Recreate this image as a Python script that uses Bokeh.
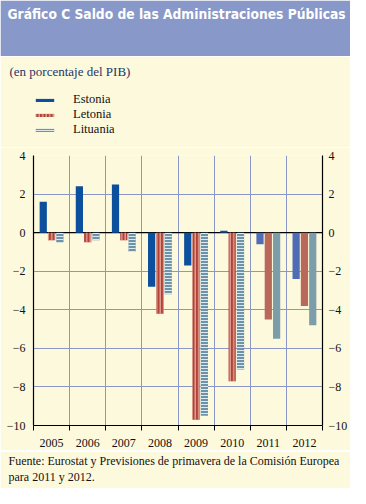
import numpy as np
from bokeh.plotting import figure
from bokeh.models import (Range1d, FixedTicker, LinearAxis, Span, ColumnDataSource,
                          Legend, LegendItem, Title)
from bokeh.layouts import column
from bokeh.embed import file_html
from bokeh.resources import INLINE

# ---------------- data ----------------
years = ["2005", "2006", "2007", "2008", "2009", "2010", "2011", "2012"]
estonia = [1.6, 2.4, 2.5, -2.8, -1.7, 0.1, -0.6, -2.4]
letonia = [-0.4, -0.5, -0.4, -4.2, -9.7, -7.7, -4.5, -3.8]
lituania = [-0.5, -0.4, -1.0, -3.2, -9.5, -7.1, -5.5, -4.8]
forecast = [False, False, False, False, False, False, True, True]
series_names = ["Estonia", "Letonia", "Lituania"]
y_ticks = [-10, -8, -6, -4, -2, 0, 2, 4]

title_text = "Gráfico C Saldo de las Administraciones Públicas"
subtitle_text = "(en porcentaje del PIB)"
source_text = ("Fuente: Eurostat y Previsiones de primavera de la Comisión Europea\n"
               "para 2011 y 2012.")

# ---------------- style ----------------
CREAM = "#fdf9dd"
HEAD = "#8898c8"
GRID = "#8b97c9"
SERIF = "Liberation Serif"
W = 350
BL, BR = 33, 23          # frame left / right borders shared by all parts

styles = {
    "Estonia": dict(fill=("#0c4f9c", "#4f6db5"), hatch=(" ", " "), hcol="#ffffff", scale=4, weight=1),
    "Letonia": dict(fill=("#b0423a", "#b9695a"), hatch=("|", " "), hcol="#e6a898", scale=3.5, weight=1.3),
    "Lituania": dict(fill=("#6d93aa", "#7c9eab"), hatch=("-", " "), hcol="#dfe8ee", scale=3, weight=1),
}
offsets = {"Estonia": -0.23, "Letonia": 0.0, "Lituania": 0.23}
bar_w = 0.2


def blank(height, color):
    f = figure(width=W, height=height, x_range=Range1d(0, 1), y_range=Range1d(0, 1),
               x_axis_type=None, y_axis_type=None, toolbar_location=None,
               output_backend="svg", title=None, min_border_left=BL, min_border_right=BR,
               min_border_top=0, min_border_bottom=0)
    f.background_fill_color = color
    f.border_fill_color = color
    f.outline_line_color = color
    f.outline_line_width = 3
    return f

# ---------------- header ----------------
header = blank(56, HEAD)
header.add_layout(Title(text=title_text, align="left", offset=-26, standoff=6,
                        text_font="DejaVu Sans Condensed", text_font_size="13.7px",
                        text_font_style="bold", text_color="white"), "above")

# ---------------- main chart ----------------
p = figure(width=W, height=303, x_range=Range1d(0, len(years)), y_range=Range1d(-10, 4),
           toolbar_location=None, output_backend="svg", title=None,
           min_border_left=BL, min_border_right=BR, min_border_top=8, min_border_bottom=25)
p.background_fill_color = CREAM
p.border_fill_color = CREAM
p.outline_line_color = None

centers = np.arange(len(years)) + 0.5
sources = []
for name, vals in zip(series_names, [estonia, letonia, lituania]):
    st = styles[name]
    src = ColumnDataSource(dict(
        x=centers + offsets[name], top=vals, year=years,
        fill=[st["fill"][1] if f else st["fill"][0] for f in forecast],
        hatch=[st["hatch"][1] if f else st["hatch"][0] for f in forecast],
    ))
    sources.append(src)
    p.vbar(x="x", top="top", bottom=0, width=bar_w, source=src, fill_color="fill",
           line_color=None, hatch_pattern="hatch", hatch_color=st["hcol"],
           hatch_scale=st["scale"], hatch_weight=st["weight"])

zero = Span(location=0, dimension="width", line_color="black", line_width=1.2, level="underlay")
p.add_layout(zero)

p.xgrid.ticker = FixedTicker(ticks=list(range(1, len(years))))
p.ygrid.ticker = FixedTicker(ticks=y_ticks)
for g in (p.xgrid, p.ygrid):
    g.grid_line_color = GRID
    g.grid_line_width = 1

def style_y(ax, standoff):
    ax.ticker = FixedTicker(ticks=y_ticks)
    ax.major_tick_out = 0
    ax.major_tick_in = 0
    ax.minor_tick_out = 0
    ax.minor_tick_in = 0
    ax.axis_line_color = "black"
    ax.axis_line_width = 1.2
    ax.major_label_text_font = SERIF
    ax.major_label_text_font_size = "12px"
    ax.major_label_text_color = "#111111"
    ax.major_label_standoff = standoff

style_y(p.yaxis[0], 8)
ra = LinearAxis()
p.add_layout(ra, "right")
style_y(ra, 6)

xa = p.xaxis[0]
xa.ticker = FixedTicker(ticks=list(centers), minor_ticks=list(range(0, len(years) + 1)))
xa.major_label_overrides = {float(c): y for c, y in zip(centers, years)}
xa.major_tick_out = 0
xa.major_tick_in = 0
xa.minor_tick_out = 5
xa.minor_tick_in = 0
xa.minor_tick_line_color = "black"
xa.axis_line_color = "black"
xa.axis_line_width = 1.2
xa.major_label_text_font = SERIF
xa.major_label_text_font_size = "12px"
xa.major_label_text_color = "#111111"
xa.major_label_standoff = 8

# ---------------- subtitle + legend ----------------
sub = blank(91, CREAM)
sub.add_layout(Title(text=subtitle_text, align="left", offset=-24, standoff=10,
                     text_font=SERIF, text_font_size="13px", text_font_style="normal",
                     text_color="#1d3566"), "above")
# legend keys: the same bar sources drawn on this plot in an off-screen range
sub.extra_y_ranges = {"keys": Range1d(100, 101)}
proxies = []
for name, src in zip(series_names, sources):
    st = styles[name]
    proxies.append(sub.vbar(x="x", top="top", bottom=0, width=bar_w, source=src,
                            y_range_name="keys", fill_color="fill", line_color=None,
                            hatch_pattern="hatch", hatch_color=st["hcol"],
                            hatch_scale=st["scale"], hatch_weight=st["weight"]))
legend = Legend(items=[LegendItem(label=n, renderers=[r], index=0)
                       for n, r in zip(series_names, proxies)],
                location=(0, 10), orientation="vertical",
                glyph_width=23, glyph_height=4, label_height=15, spacing=0,
                label_standoff=17, padding=0, margin=0,
                background_fill_alpha=0, border_line_color=None,
                label_text_font=SERIF, label_text_font_size="12.5px",
                label_text_color="#111111")
sub.add_layout(legend, "center")

# ---------------- footnote ----------------
foot = blank(37, CREAM)
foot.add_layout(Title(text=source_text, align="left", offset=-25, standoff=2,
                      text_font=SERIF, text_font_size="12px", text_font_style="normal",
                      text_line_height=1.15, text_color="#111111"), "above")

layout = column(column(header, sub, p, spacing=0), foot, spacing=1)
open("out.html", "w").write(file_html(layout, INLINE))
